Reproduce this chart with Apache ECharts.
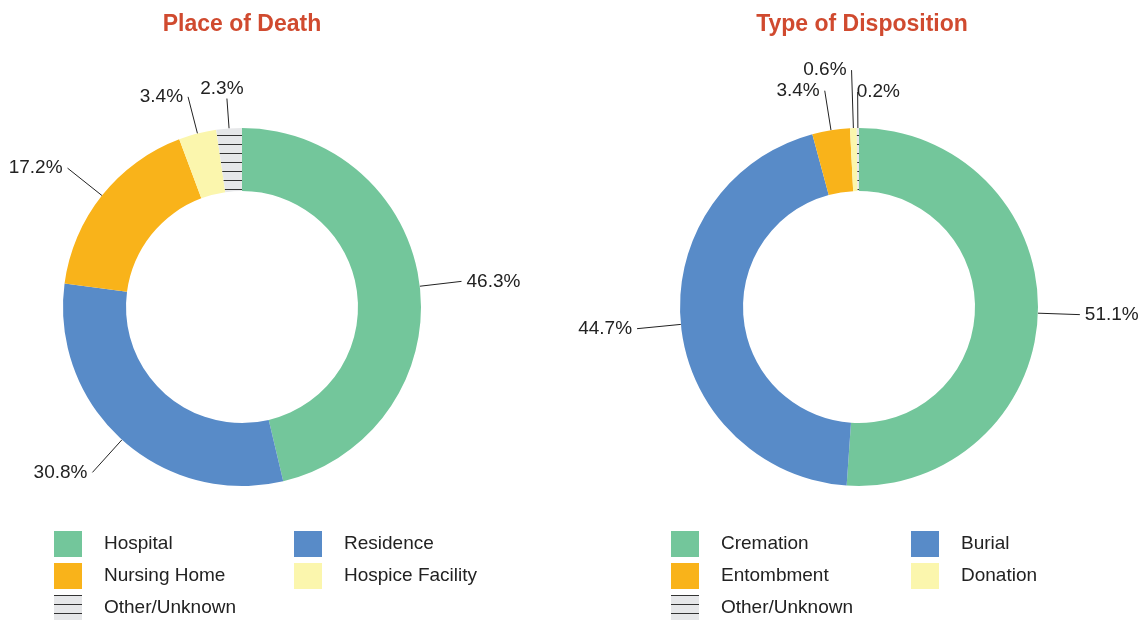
<!DOCTYPE html>
<html>
<head>
<meta charset="utf-8">
<script src="https://cdn.jsdelivr.net/npm/echarts@6/dist/echarts.min.js"></script>
<style>
html,body{margin:0;padding:0;background:#fff;}
#chart{width:1144px;height:620px;}
</style>
</head>
<body>
<div id="chart"></div>
<script>
// ---- data ----
const placeTitle = 'Place of Death';
const placeCategories = ['Hospital', 'Residence', 'Nursing Home', 'Hospice Facility', 'Other/Unknown'];
const placeValues = [46.3, 30.8, 17.2, 3.4, 2.3];

const dispTitle = 'Type of Disposition';
const dispCategories = ['Cremation', 'Burial', 'Entombment', 'Donation', 'Other/Unknown'];
const dispValues = [51.1, 44.7, 3.4, 0.6, 0.2];

// ---- styling ----
const sliceColors = ['#73C69B', '#588BC8', '#F9B31A', '#FBF6AD', null];
const placeLineLen = [42, 44, 44, 38, 30];
const dispLineLen = [42, 44, 40, 58, 36];

function makeHatch() {
  const c = document.createElement('canvas');
  c.width = 8; c.height = 9;
  const ctx = c.getContext('2d');
  ctx.fillStyle = '#E6E7E9';
  ctx.fillRect(0, 0, 8, 9);
  ctx.fillStyle = '#333333';
  ctx.fillRect(0, 0, 8, 1);
  return c;
}
const hatch = { image: makeHatch(), repeat: 'repeat' };

function buildData(cats, vals, lens) {
  return cats.map((name, i) => ({
    name: name,
    value: vals[i],
    itemStyle: { color: sliceColors[i] || hatch },
    label: { show: true, color: '#222' },
    labelLine: { show: true, length: lens[i], length2: 0 }
  }));
}

function pieSeries(cats, vals, lens, center) {
  return {
    type: 'pie',
    center: center,
    radius: [116, 179],
    startAngle: 90,
    clockwise: true,
    avoidLabelOverlap: false,
    label: {
      show: true,
      position: 'outside',
      formatter: p => p.value.toFixed(1) + '%',
      fontSize: 19,
      color: '#222',
      fontFamily: 'Liberation Sans, Arial, sans-serif'
    },
    labelLine: {
      show: true,
      lineStyle: { color: '#222', width: 1 }
    },
    labelLayout: function (params) {
      const out = { hideOverlap: false, moveOverlap: null };
      if (params.dataIndex === 4 && params.seriesIndex === 1) {
        out.align = 'left';
        out.dx = 4;
      }
      if (params.dataIndex === 4 && params.seriesIndex === 0) {
        out.align = 'center';
        out.verticalAlign = 'bottom';
      }
      return out;
    },
    emphasis: { scale: false },
    itemStyle: { borderWidth: 0 },
    data: buildData(cats, vals, lens)
  };
}

const legendCommon = {
  orient: 'vertical',
  icon: 'rect',
  itemWidth: 28,
  itemHeight: 26,
  itemGap: 6,
  top: 531,
  height: 100,
  padding: 0,
  textStyle: {
    fontSize: 19,
    color: '#222',
    fontFamily: 'Liberation Sans, Arial, sans-serif',
    padding: [0, 0, 0, 17]
  }
};

const chart = echarts.init(document.getElementById('chart'));
chart.setOption({
  animation: false,
  title: [
    { text: placeTitle, left: 237, top: 8, textAlign: 'center',
      textStyle: { fontSize: 23, fontWeight: 'bold', color: '#D04A2F', fontFamily: 'Liberation Sans, Arial, sans-serif' } },
    { text: dispTitle, left: 857, top: 8, textAlign: 'center',
      textStyle: { fontSize: 23, fontWeight: 'bold', color: '#D04A2F', fontFamily: 'Liberation Sans, Arial, sans-serif' } }
  ],
  legend: [
    Object.assign({}, legendCommon, { left: 54, data: [placeCategories[0], placeCategories[2], placeCategories[4]] }),
    Object.assign({}, legendCommon, { left: 294, data: [placeCategories[1], placeCategories[3]] }),
    Object.assign({}, legendCommon, { left: 671, data: [dispCategories[0], dispCategories[2], dispCategories[4]] }),
    Object.assign({}, legendCommon, { left: 911, data: [dispCategories[1], dispCategories[3]] })
  ],
  series: [
    pieSeries(placeCategories, placeValues, placeLineLen, [242, 307]),
    pieSeries(dispCategories, dispValues, dispLineLen, [859, 307])
  ]
});
</script>
</body>
</html>
